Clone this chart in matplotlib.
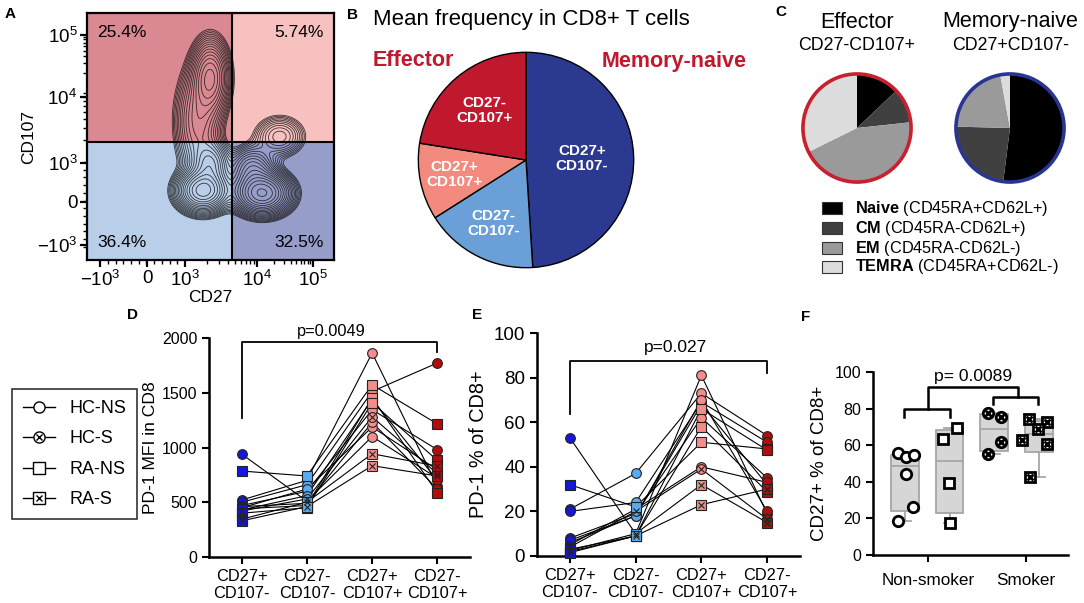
import numpy as np
import matplotlib
matplotlib.use('Agg')
import matplotlib.pyplot as plt
from matplotlib.patches import Rectangle, Circle
from matplotlib.lines import Line2D
from matplotlib.legend_handler import HandlerTuple

plt.rcParams['font.family'] = ['Liberation Sans', 'DejaVu Sans']
plt.rcParams['mathtext.fontset'] = 'custom'
plt.rcParams['mathtext.rm'] = 'Liberation Sans'
plt.rcParams['mathtext.bf'] = 'Liberation Sans:bold'
plt.rcParams['mathtext.it'] = 'Liberation Sans:italic'

# ---------------- data ----------------
# A: flow plot, quadrant frequencies and populations (display units 0..1)
quad_text = ['25.4%', '5.74%', '36.4%', '32.5%']
gate_x, gate_y = 0.587, 0.476
pop_x = [0.50, 0.45, 0.78, 0.47, 0.50, 0.71, 0.67]
pop_y = [0.74, 0.56, 0.50, 0.28, 0.39, 0.27, 0.37]
pop_sx = [0.04, 0.05, 0.055, 0.055, 0.04, 0.06, 0.05]
pop_sy = [0.08, 0.12, 0.045, 0.045, 0.05, 0.045, 0.05]
pop_w = [1.0, 0.5, 0.35, 1.6, 0.6, 1.8, 0.5]
a_xtick_pos = [0.053, 0.243, 0.397, 0.688, 0.915]
a_xtick_lab = ['$-10^3$', '0', '$10^3$', '$10^4$', '$10^5$']
a_ytick_pos = [0.06, 0.235, 0.393, 0.66, 0.91]
a_ytick_lab = ['$-10^3$', '0', '$10^3$', '$10^4$', '$10^5$']

# B: mean frequency pie
pieB_labels = ['CD27+\nCD107-', 'CD27-\nCD107-', 'CD27+\nCD107+', 'CD27-\nCD107+']
pieB_values = [49.0, 17.0, 11.5, 22.5]

# C: subsets
subsets = ['Naive', 'CM', 'EM', 'TEMRA']
subset_desc = ['(CD45RA+CD62L+)', '(CD45RA-CD62L+)', '(CD45RA-CD62L-)', '(CD45RA+CD62L-)']
effector_subsets = [12.9, 10.4, 44.4, 32.3]
memnaive_subsets = [52.0, 23.4, 21.7, 2.9]

# D / E: paired data per subject
categories = ['CD27+\nCD107-', 'CD27-\nCD107-', 'CD27+\nCD107+', 'CD27-\nCD107+']
groups = ['HC-NS', 'HC-S', 'RA-NS', 'RA-S']
subject_group = ['HC-NS', 'RA-NS', 'HC-NS', 'HC-NS', 'HC-NS', 'HC-NS', 'HC-NS',
                 'HC-S', 'RA-NS', 'RA-NS', 'HC-NS', 'RA-S', 'RA-S']
pd1_mfi = [[940, 510, 1100, 720],
           [785, 740, 1573, 1215],
           [520, 700, 1863, 645],
           [500, 660, 1512, 1772],
           [470, 600, 1345, 980],
           [450, 620, 1187, 797],
           [430, 560, 1440, 700],
           [420, 530, 1280, 760],
           [440, 470, 1452, 584],
           [400, 450, 1409, 882],
           [460, 490, 1230, 620],
           [345, 500, 943, 830],
           [330, 460, 834, 740]]
pd1_pct = [[53, 10, 81, 19],
           [32, 22, 51, 48],
           [21, 37, 73, 54],
           [20, 24, 69, 51],
           [8, 19, 62, 35],
           [6, 18, 68, 32],
           [5, 21, 40, 33],
           [4, 20, 39, 16.5],
           [3, 9, 66, 47.5],
           [2, 9, 58, 28.8],
           [7, 18, 70, 20],
           [2.5, 10, 32, 15],
           [1.5, 9, 23, 30]]

# F: CD27+ % of CD8+
f_groups = ['HC-NS', 'RA-NS', 'HC-S', 'RA-S']
cd27_hcns = [55.5, 53.6, 54.5, 44.2, 26.0, 18.5]
cd27_rans = [69.6, 63.6, 39.1, 17.6]
cd27_hcs = [77.6, 75.5, 61.8, 55.1]
cd27_ras = [74.2, 72.7, 69.1, 63.1, 60.5, 42.7]
f_jitter = [[-0.16, 0.02, 0.21, 0.02, 0.17, -0.15],
            [0.17, -0.15, -0.01, 0.0],
            [-0.14, 0.16, 0.16, -0.13],
            [-0.22, 0.17, -0.02, -0.39, 0.17, -0.2]]

# ---------------- figure ----------------
W, H = 1084, 603
fig = plt.figure(figsize=(W / 100, H / 100), dpi=100)


def add_ax(l, t, r, b):
    return fig.add_axes([l / W, 1 - b / H, (r - l) / W, (b - t) / H])


def ftxt(x, y, s, **kw):
    kw.setdefault('va', 'center')
    fig.text(x / W, 1 - y / H, s, **kw)


for lab, (x, y) in zip('ABCDEF', [(10, 14), (353, 15), (781, 12), (133, 315), (477, 315), (806, 317)]):
    ftxt(x, y, lab, ha='center', fontsize=11, fontweight='bold')

# ---- A ----
axA = add_ax(87, 13, 334, 260)
axA.set_xlim(0, 1)
axA.set_ylim(0, 1)
axA.add_patch(Rectangle((0, gate_y), gate_x, 1 - gate_y, color='#da8891', zorder=0))
axA.add_patch(Rectangle((gate_x, gate_y), 1 - gate_x, 1 - gate_y, color='#f6c1bf', zorder=0))
axA.add_patch(Rectangle((0, 0), gate_x, gate_y, color='#b9cee9', zorder=0))
axA.add_patch(Rectangle((gate_x, 0), 1 - gate_x, gate_y, color='#979dc9', zorder=0))
gx, gy = np.meshgrid(np.linspace(0, 1, 400), np.linspace(0, 1, 400))
dens = np.zeros_like(gx)
for cx, cy, sx, sy, w in zip(pop_x, pop_y, pop_sx, pop_sy, pop_w):
    dens += w * np.exp(-((gx - cx) ** 2 / (2 * sx ** 2) + (gy - cy) ** 2 / (2 * sy ** 2)))
levels = np.geomspace(0.03, 0.95, 19) * dens.max()
axA.contour(gx, gy, dens, levels=levels, colors='#1a1a1a', linewidths=0.6, alpha=0.85, zorder=1)
axA.axvline(gate_x, color='black', lw=1.5, zorder=2)
axA.axhline(gate_y, color='black', lw=1.5, zorder=2)
axA.text(0.04, 0.92, quad_text[0], fontsize=12.5, va='center', ha='left')
axA.text(0.96, 0.92, quad_text[1], fontsize=12.5, va='center', ha='right')
axA.text(0.04, 0.07, quad_text[2], fontsize=12.5, va='center', ha='left')
axA.text(0.96, 0.07, quad_text[3], fontsize=12.5, va='center', ha='right')
axA.set_xticks(a_xtick_pos, a_xtick_lab)
axA.set_yticks(a_ytick_pos, a_ytick_lab)
minor = []
for p0, p1 in [(a_xtick_pos[2], a_xtick_pos[3]), (a_xtick_pos[3], a_xtick_pos[4])]:
    minor += [p0 + (p1 - p0) * np.log10(k) for k in range(2, 10)]
minor += list(np.linspace(a_xtick_pos[0], a_xtick_pos[2], 12))
axA.set_xticks(minor, minor=True)
axA.set_yticks(minor, minor=True)
axA.tick_params(which='major', length=5, width=1.6, labelsize=13.5, pad=2)
axA.tick_params(which='minor', length=3, width=1)
for s in axA.spines.values():
    s.set_linewidth(1.6)
axA.set_xlabel('CD27', fontsize=12.5, labelpad=0)
axA.set_ylabel('CD107', fontsize=12.5, labelpad=0)

# ---- B ----
ftxt(373, 19, 'Mean frequency in CD8+ T cells', fontsize=16)
ftxt(373, 61, 'Effector', fontsize=15.5, fontweight='bold', color='#c0182d')
ftxt(602, 61, 'Memory-naive', fontsize=15.5, fontweight='bold', color='#c0182d')
axB = add_ax(526 - 112, 160 - 112, 526 + 112, 160 + 112)
wedges, _ = axB.pie(pieB_values, colors=['#2b3990', '#6a9fd7', '#f28a7d', '#c0192e'],
                    startangle=90, counterclock=False,
                    wedgeprops=dict(edgecolor='black', linewidth=1))
axB.set_xlim(-1.04, 1.04)
axB.set_ylim(-1.04, 1.04)
for w, lab, d in zip(wedges, pieB_labels, [0.52, 0.66, 0.68, 0.6]):
    ang = np.deg2rad((w.theta1 + w.theta2) / 2)
    axB.text(d * np.cos(ang), d * np.sin(ang), lab, ha='center', va='center', color='white',
             fontweight='bold', fontsize=11, linespacing=1.1)

# ---- C ----
subset_colors = ['#000000', '#404040', '#9a9a9a', '#dcdcdc']
ftxt(857, 22, 'Effector', fontsize=15.5, ha='center')
ftxt(857, 45, 'CD27-CD107+', fontsize=12.8, ha='center')
ftxt(1010, 22, 'Memory-naive', fontsize=15.5, ha='center')
ftxt(1011, 45, 'CD27+CD107-', fontsize=12.8, ha='center')
for cx, vals, ring in [(857, effector_subsets, '#c8202f'), (1010, memnaive_subsets, '#2a3593')]:
    ax = add_ax(cx - 60, 128 - 60, cx + 60, 128 + 60)
    ax.pie(vals, colors=subset_colors, startangle=90, counterclock=False, radius=1,
           wedgeprops=dict(edgecolor='none'))
    ax.add_patch(Circle((0, 0), 1, fill=False, ec=ring, lw=2.6))
    ax.set_xlim(-1.11, 1.11)
    ax.set_ylim(-1.11, 1.11)
for name, desc, col, y in zip(subsets, subset_desc, subset_colors, [208, 228, 248, 267]):
    fig.add_artist(Rectangle((822 / W, 1 - (y + 6) / H), 20 / W, 12 / H, transform=fig.transFigure,
                             fc=col, ec='#333333', lw=0.8))
    ftxt(855, y, r'$\mathbf{%s}$ %s' % (name, desc), fontsize=11.7)


# ---- D / E ----
cat_colors = ['#1616dc', '#5aaaf0', '#f48c8c', '#b30c0c']
xs = np.arange(1, 5)


def draw_pts(ax, x, y, group, face, ms=7, edge='#222222', mew=0.8):
    shape = 'o' if group.startswith('HC') else 's'
    ax.plot(x, y, marker=shape, ms=ms, mfc=face, mec=edge, mew=mew, ls='none', clip_on=False, zorder=3)
    if group.endswith('-S'):
        ax.plot(x, y, marker='x', ms=ms * 0.62, mec=edge, mew=mew, ls='none', clip_on=False, zorder=4)


def paired(ax, data):
    data = np.array(data, dtype=float)
    for row in data:
        ax.plot(xs, row, color='black', lw=0.8, zorder=2, clip_on=False)
    sg = np.array(subject_group)
    for j in range(4):
        for g in groups:
            sel = sg == g
            if sel.any():
                draw_pts(ax, np.full(sel.sum(), xs[j]), data[sel, j], g, cat_colors[j])
    ax.set_xlim(0.5, 4.5)
    ax.set_xticks(xs, categories)
    for s in ['top', 'right']:
        ax.spines[s].set_visible(False)
    for s in ['left', 'bottom']:
        ax.spines[s].set_linewidth(1.8)
    ax.tick_params(length=5, width=1.5)
    ax.tick_params(axis='x', labelsize=11.8)


axD = add_ax(209, 338, 470, 557)
paired(axD, pd1_mfi)
axD.set_ylim(0, 2000)
axD.set_yticks([0, 500, 1000, 1500, 2000])
axD.tick_params(axis='y', labelsize=11.5)
axD.set_ylabel('PD-1 MFI in CD8', fontsize=12.6)
axD.yaxis.set_label_coords(-0.195, 0.5)
axD.plot([1, 1, 4, 4], [1270, 1960, 1960, 1870], color='black', lw=1.3, clip_on=False)
axD.text(2.38, 2060, 'p=0.0049', ha='center', va='center', fontsize=11.8)

axE = add_ax(537, 333, 800, 556)
paired(axE, pd1_pct)
axE.set_ylim(0, 100)
axE.set_yticks([0, 20, 40, 60, 80, 100])
axE.tick_params(axis='y', labelsize=13.5)
axE.set_ylabel('PD-1 % of CD8+', fontsize=14.3)
axE.yaxis.set_label_coords(-0.188, 0.5)
axE.plot([1, 1, 4, 4], [63.7, 87.4, 87.4, 82], color='black', lw=1.3, clip_on=False)
axE.text(2.6, 93.3, 'p=0.027', ha='center', va='center', fontsize=12.5)

handles = []
for g in groups:
    shape = 'o' if g.startswith('HC') else 's'
    base = Line2D([], [], color='black', lw=1, marker=shape, ms=8, mfc='white', mec='black', mew=1)
    if g.endswith('-S'):
        handles.append((base, Line2D([], [], ls='none', marker='x', ms=5, mec='black', mew=1)))
    else:
        handles.append(base)
leg = fig.legend(handles, groups, loc='upper left', bbox_to_anchor=(12 / W, 1 - 389 / H),
                 borderaxespad=0, frameon=True, fancybox=False, edgecolor='black', fontsize=13,
                 handlelength=1.8, labelspacing=0.75, borderpad=0.6,
                 handler_map={tuple: HandlerTuple(ndivide=1)})
leg.get_frame().set_linewidth(1.2)

# ---- F ----
axF = add_ax(873, 372, 1068, 555)
f_data = [cd27_hcns, cd27_rans, cd27_hcs, cd27_ras]
stats = []
for vals in f_data:
    q1, med, q3 = np.percentile(vals, [25, 50, 75], method='weibull')
    stats.append(dict(med=med, q1=q1, q3=q3, whislo=min(vals), whishi=max(vals)))
gray = '#a6a6a6'
axF.bxp(stats, positions=[1, 2, 3, 4], widths=0.62, patch_artist=True, showfliers=False,
        boxprops=dict(facecolor='#d6d6d6', edgecolor=gray, linewidth=1.3),
        medianprops=dict(color=gray, lw=1.3), whiskerprops=dict(color=gray, lw=1.3),
        capprops=dict(color=gray, lw=1.3), capwidths=0.25, manage_ticks=False)
for k, (vals, jit, g) in enumerate(zip(f_data, f_jitter, f_groups)):
    px = k + 1 + np.array(jit)
    draw_pts(axF, px, vals, g, 'white', ms=7.5, edge='black', mew=2)
axF.set_xlim(0.284, 4.65)
axF.set_ylim(0, 100)
axF.set_yticks([0, 20, 40, 60, 80, 100])
axF.set_xticks([1.51, 3.7], ['Non-smoker', 'Smoker'])
for s in ['top', 'right']:
    axF.spines[s].set_visible(False)
for s in ['left', 'bottom']:
    axF.spines[s].set_linewidth(1.8)
axF.tick_params(length=5, width=1.5, labelsize=11.5)
axF.tick_params(axis='x', labelsize=12.3, pad=8)
axF.set_ylabel('CD27+ % of CD8+', fontsize=13.5)
axF.yaxis.set_label_coords(-0.23, 0.5)
bk = dict(color='black', lw=1.8, clip_on=False)
axF.plot([0.98, 0.98, 2.0, 2.0], [75.4, 79.8, 79.8, 75.4], **bk)
axF.plot([2.97, 2.97, 3.98, 3.98], [82.5, 86.3, 86.3, 82.5], **bk)
axF.plot([1.51, 1.51, 3.53, 3.53], [79.8, 91.8, 91.8, 86.3], **bk)
axF.text(2.52, 97.8, 'p= 0.0089', ha='center', va='center', fontsize=12.6)

fig.savefig('out.png', dpi=100)
